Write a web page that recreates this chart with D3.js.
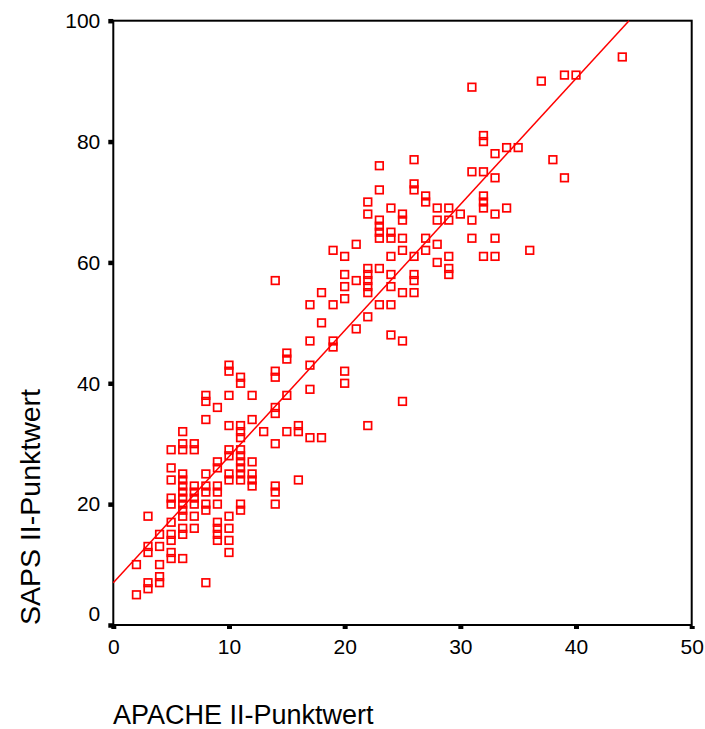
<!DOCTYPE html>
<html>
<head>
<meta charset="utf-8">
<script src="https://cdn.jsdelivr.net/npm/d3@7"></script>
<style>
  html, body { margin: 0; padding: 0; background: #fff; }
  svg { display: block; }
  text { font-family: "Liberation Sans", Arial, sans-serif; fill: #000; }
</style>
</head>
<body>
<svg id="chart" width="705" height="729"></svg>
<script>
// APACHE II score (x) and SAPS II score (y) per patient
const apache = [
  2,2,
  3,3,3,3,3,
  4,4,4,4,4,
  5,5,5,5,5,5,5,5,5,5,
  6,6,6,6,6,6,6,6,6,6,6,6,6,6,
  7,7,7,7,7,7,7,7,
  8,8,8,8,8,8,8,8,8,
  9,9,9,9,9,9,9,9,9,9,
  10,10,10,10,10,10,10,10,10,10,10,10,
  11,11,11,11,11,11,11,11,11,11,11,11,11,
  12,12,12,12,12,12,
  13,
  14,14,14,14,14,14,14,14,14,
  15,15,15,15,
  16,16,16,
  17,17,17,17,17,
  18,18,18,
  19,19,19,19,
  20,20,20,20,20,20,
  21,21,21,
  22,22,22,22,22,22,22,22,22,
  23,23,23,23,23,23,23,23,
  24,24,24,24,24,24,24,24,
  25,25,25,25,25,25,25,
  26,26,26,26,26,26,26,
  27,27,27,27,
  28,28,28,28,
  29,29,29,29,29,
  30,
  31,31,31,31,
  32,32,32,32,32,32,32,
  33,33,33,33,33,
  34,34,
  35,
  36,
  37,
  38,
  39,39,
  40,
  44
];
const saps = [
  5,10,
  6,7,12,13,18,
  7,8,10,13,15,
  11,12,14,15,17,20,21,24,26,29,
  11,15,16,18,19,20,21,22,23,24,25,29,30,32,
  16,18,20,21,22,23,29,30,
  7,19,20,22,23,25,34,37,38,
  14,15,16,17,20,22,23,26,27,36,
  12,14,16,18,24,25,28,29,33,38,42,43,
  19,20,24,25,26,27,28,29,31,32,33,40,41,
  23,24,25,27,34,38,
  32,
  20,22,23,30,35,36,41,42,57,
  32,38,44,45,
  24,32,33,
  31,39,43,47,53,
  31,50,55,
  46,47,53,62,
  40,42,54,56,58,61,
  49,57,63,
  33,51,55,56,57,58,59,68,70,
  53,59,64,65,66,67,72,76,
  48,53,56,58,61,64,65,69,
  37,47,55,62,64,67,68,
  55,57,58,61,72,73,77,
  62,64,70,71,
  60,63,67,69,
  58,59,61,67,69,
  68,
  64,67,75,89,
  61,69,70,71,75,80,81,
  61,64,68,74,78,
  69,79,
  79,
  62,
  90,
  77,
  74,91,
  91,
  94
];
// Linear fit drawn on the chart
const fitIntercept = 7.0;
const fitSlope = 2.086;

const xTicks = [0, 10, 20, 30, 40, 50];
const yTicks = [0, 20, 40, 60, 80, 100];

const svg = d3.select("#chart");
const pLeft = 113.3, pRight = 691.7, pTop = 20.7, pBottom = 625;

const x = d3.scaleLinear().domain([0, 50]).range([pLeft, pRight]);
const y = d3.scaleLinear().domain([0, 100]).range([pBottom, pTop]);

// Frame
svg.append("rect")
  .attr("x", pLeft).attr("y", pTop)
  .attr("width", pRight - pLeft).attr("height", pBottom - pTop)
  .attr("fill", "none").attr("stroke", "#000").attr("stroke-width", 2);

// X axis
const gx = svg.append("g").attr("transform", `translate(0,${pBottom})`)
  .call(d3.axisBottom(x).tickValues(xTicks).tickSize(4).tickPadding(10).tickFormat(d3.format("d")));
gx.select(".domain").remove();
gx.selectAll(".tick line").attr("stroke", "#000").attr("stroke-width", 5).attr("y1", 1);
gx.selectAll(".tick text").attr("font-size", 21).attr("font-family", "Liberation Sans, Arial, sans-serif").attr("fill", "#000");

// Y axis
const gy = svg.append("g").attr("transform", `translate(${pLeft},0)`)
  .call(d3.axisLeft(y).tickValues(yTicks).tickSize(5).tickPadding(8).tickFormat(d3.format("d")));
gy.select(".domain").remove();
gy.selectAll(".tick line").attr("stroke", "#000").attr("stroke-width", 4.5);
gy.selectAll(".tick text").attr("font-size", 21).attr("font-family", "Liberation Sans, Arial, sans-serif").attr("fill", "#000")
  .attr("dy", d => d === 0 ? "-0.22em" : "0.32em");

// Fit line
const xEnd = Math.min(50, (100 - fitIntercept) / fitSlope);
svg.append("line")
  .attr("x1", x(0)).attr("y1", y(fitIntercept))
  .attr("x2", x(xEnd)).attr("y2", y(fitIntercept + fitSlope * xEnd))
  .attr("stroke", "#ff0000").attr("stroke-width", 1.5);

// Points
const pts = apache.map((a, i) => ({ a, s: saps[i] }));
const ms = 7.6;
svg.append("g").selectAll("rect").data(pts).join("rect")
  .attr("x", d => x(d.a) - ms / 2)
  .attr("y", d => y(d.s) - ms / 2)
  .attr("width", ms).attr("height", ms)
  .attr("fill", "none").attr("stroke", "#ff0000").attr("stroke-width", 1.7);

// Axis titles
svg.append("text")
  .attr("x", 113).attr("y", 724)
  .attr("font-size", 27)
  .text("APACHE II-Punktwert");

svg.append("text")
  .attr("transform", "translate(40,625) rotate(-90)")
  .attr("font-size", 28.5)
  .text("SAPS II-Punktwert");
</script>
</body>
</html>
